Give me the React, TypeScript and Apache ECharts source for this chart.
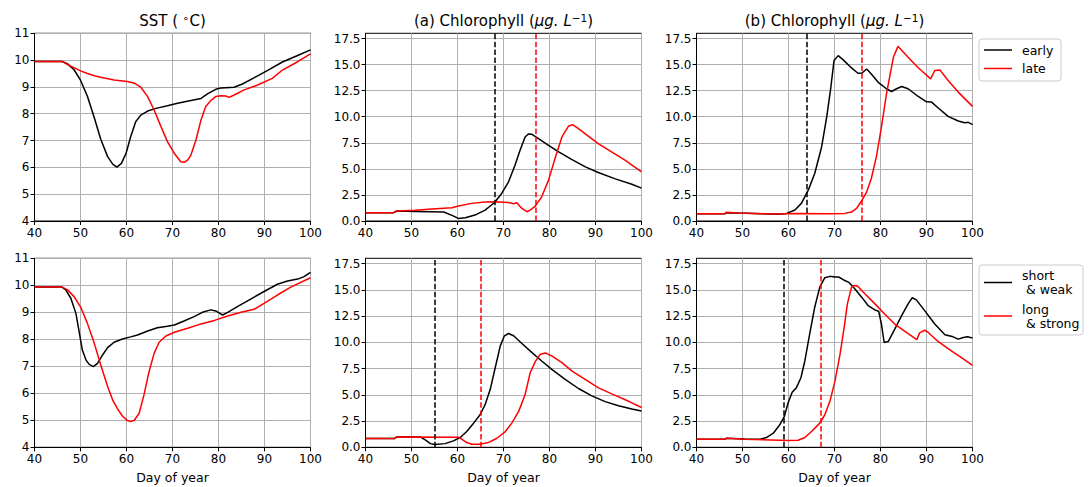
import React, { useEffect, useRef } from "react";
import * as echarts from "echarts";

// ---------- data (day of year, value) ----------
const sstEarlyTop = [[40,9.95],[46,9.95],[47.2,9.86],[48.6,9.64],[50,9.25],[51.5,8.65],[53,7.85],[54.4,7.05],[55.9,6.4],[57,6.12],[57.9,6.01],[58.9,6.15],[59.9,6.52],[60.9,7.14],[62,7.7],[63.1,7.95],[64.6,8.1],[66.4,8.2],[68.9,8.3],[71.1,8.39],[74,8.49],[76.2,8.57],[77.6,8.74],[79.4,8.91],[80.5,8.96],[83.4,8.99],[85.2,9.11],[87.8,9.35],[90.6,9.61],[93.9,9.93],[97.2,10.17],[100,10.38]];
const sstLateTop = [[40,9.95],[46,9.95],[47.2,9.83],[48.6,9.72],[50,9.6],[51.5,9.5],[53,9.42],[54.4,9.36],[57.3,9.26],[60.2,9.2],[61.7,9.14],[63.1,8.99],[64.6,8.64],[66,8.14],[67.5,7.52],[68.9,6.96],[70.4,6.52],[71.8,6.21],[72.5,6.19],[73.3,6.27],[74,6.46],[75.1,7.02],[76.2,7.77],[77.2,8.26],[78.3,8.49],[79.4,8.64],[80.5,8.67],[81.6,8.66],[82.3,8.61],[83.4,8.7],[85.6,8.89],[88.5,9.07],[91.7,9.32],[93.9,9.63],[97.2,9.94],[100,10.23]];
const chlAEarlyTop = [[40,0.8],[46.1,0.8],[46.8,0.96],[50.8,0.92],[57,0.86],[58.8,0.54],[60.2,0.25],[61.7,0.32],[63.8,0.57],[66,1.05],[68,1.75],[69.6,2.64],[71.1,3.76],[72.5,5.35],[73.6,6.78],[74.7,8.06],[75.4,8.34],[76.2,8.31],[77.6,7.9],[79.8,7.26],[82,6.62],[84.9,5.89],[87.8,5.19],[90.6,4.65],[94.3,4.04],[97.9,3.53],[100,3.15]];
const chlALateTop = [[40,0.8],[46.1,0.8],[46.8,0.96],[50.8,1.02],[54.4,1.15],[58.8,1.27],[60.2,1.43],[63.1,1.69],[66,1.82],[68.2,1.85],[71.1,1.78],[72.2,1.66],[72.9,1.75],[74,1.21],[75.1,0.89],[75.8,1.05],[76.9,1.43],[78.3,2.32],[79.8,3.92],[81.2,5.99],[82.7,8.06],[84.1,9.08],[85,9.24],[86.3,8.86],[88.5,8.12],[90.6,7.42],[93.5,6.62],[96.4,5.83],[100,4.71]];
const chlBEarlyTop = [[40,0.7],[46.2,0.7],[46.5,0.8],[49.1,0.76],[54.1,0.7],[57.7,0.64],[59.6,0.73],[61.4,1.05],[62.8,1.69],[64.3,2.96],[65.7,4.55],[67.2,7.1],[68.3,9.97],[69.2,12.8],[69.9,15.4],[70.8,15.86],[71.9,15.45],[73.7,14.68],[75.1,14.17],[75.9,14.17],[77,14.58],[78,14.1],[79.5,13.3],[81.3,12.68],[82.4,12.42],[83.5,12.68],[84.6,12.9],[86,12.68],[88.2,11.94],[90,11.43],[91.1,11.4],[92.5,10.86],[94.7,10.03],[96.9,9.59],[98.3,9.43],[99.1,9.46],[100,9.24]];
const chlBLateTop = [[40,0.7],[46.2,0.7],[46.5,0.83],[49.1,0.76],[57.7,0.67],[61.4,0.73],[68.6,0.7],[72.2,0.73],[73.7,0.86],[74.8,1.21],[75.9,1.94],[77,2.8],[78,4.08],[79.1,6.15],[80.2,9],[81.3,12.2],[82.8,15.7],[83.8,16.75],[86,15.7],[88.2,14.7],[90.9,13.63],[91.8,14.43],[92.9,14.49],[94.7,13.47],[96.9,12.36],[100,10.99]];

const sstShort = [[40,9.94],[45.9,9.94],[46.8,9.83],[47.9,9.52],[49,8.96],[49.7,8.28],[50.4,7.6],[51.2,7.23],[51.9,7.07],[52.8,6.99],[53.7,7.11],[54.8,7.42],[55.9,7.69],[57.3,7.89],[59.1,8.01],[60.9,8.09],[62.4,8.16],[64.6,8.31],[66.7,8.43],[68.9,8.48],[70.4,8.53],[72.5,8.68],[74.7,8.84],[76.5,9],[78.3,9.09],[79.4,9.05],[80.9,8.9],[82,9],[84.1,9.21],[87,9.49],[89.9,9.77],[92.8,10.04],[95,10.16],[97.2,10.23],[98.6,10.32],[100,10.48]];
const sstLong = [[40,9.94],[45.9,9.94],[47.2,9.83],[48.6,9.58],[50.1,9.17],[51.5,8.59],[53,7.85],[54.4,7.05],[55.9,6.25],[57,5.75],[58,5.44],[59.1,5.16],[60.2,4.99],[60.9,4.95],[61.7,5],[62.75,5.26],[63.8,5.94],[64.9,6.8],[66,7.48],[67.1,7.89],[68.55,8.12],[70.4,8.26],[73.3,8.41],[76.2,8.57],[79.1,8.7],[82,8.86],[84.9,9],[87.75,9.11],[89.9,9.33],[92.8,9.64],[95.7,9.93],[100,10.28]];
const chlAShort = [[40,0.83],[46.3,0.83],[46.8,0.99],[51.9,0.99],[53,0.7],[54.1,0.35],[55.1,0.26],[57.3,0.35],[59.1,0.61],[60.6,0.93],[62,1.5],[63.5,2.3],[64.9,3.1],[66,4.06],[67.1,5.5],[68.2,7.58],[69.3,9.66],[70.2,10.62],[71.1,10.84],[72.2,10.62],[74,9.88],[76.2,9.02],[78.3,8.22],[80.5,7.42],[83.4,6.46],[86.3,5.6],[89.2,4.9],[92.1,4.35],[95,3.95],[97.9,3.65],[100,3.45]];
const chlALong = [[40,0.83],[46.3,0.83],[46.8,0.99],[60.2,0.96],[60.9,0.77],[62,0.45],[63.1,0.29],[64.9,0.29],[66.7,0.45],[68.55,0.86],[70.4,1.5],[71.8,2.3],[73.3,3.42],[74.7,5.02],[75.8,7.1],[76.9,8.16],[78,8.86],[79.1,8.99],[80.5,8.7],[82.7,8.06],[84.9,7.26],[87.75,6.46],[90.65,5.66],[93.55,5.09],[97.2,4.38],[100,3.79]];
const chlBShort = [[40,0.77],[46.2,0.77],[46.5,0.86],[50.5,0.8],[53.8,0.77],[55.2,0.93],[56.7,1.34],[58.1,2.14],[59.1,2.94],[59.9,4.22],[60.8,5.25],[61.7,5.66],[62.7,6.62],[63.55,8.22],[64.6,10.78],[65.7,13.34],[66.8,15.26],[67.9,16.15],[69,16.28],[70.1,16.22],[70.9,16.22],[71.9,15.96],[73.1,15.71],[74.4,15.1],[75.9,14.3],[77.3,13.5],[78.8,13.08],[79.6,12.96],[80.2,11.74],[80.8,9.98],[81.7,10.08],[83.1,11.26],[84.6,12.54],[86,13.66],[86.9,14.24],[87.8,14.04],[89.6,13.02],[91.8,11.74],[94,10.72],[95.8,10.52],[96.9,10.3],[98,10.46],[98.9,10.52],[100,10.4]];
const chlBLong = [[40,0.77],[46.2,0.77],[46.5,0.86],[50.5,0.77],[59.9,0.64],[62.1,0.67],[63.55,0.93],[65,1.5],[66.8,2.3],[67.9,3.1],[69,4.38],[70.1,6.3],[71.2,8.86],[72.1,11.42],[72.8,13.66],[73.7,15.26],[74.3,15.42],[75,15.36],[76.6,14.62],[78.8,13.66],[80.9,12.7],[83.1,11.74],[85.3,11.04],[87.9,10.25],[88.5,10.9],[89.6,11.15],[90.2,11.0],[92.5,10.08],[95.4,9.18],[97.6,8.54],[100,7.8]];

// bloom onset days (vertical dashed lines): [black, red]
const onsetATop = [68, 77];
const onsetBTop = [64, 76];
const onsetABottom = [55, 65];
const onsetBBottom = [59, 67];

const chlTicks = [0, 2.5, 5, 7.5, 10, 12.5, 15, 17.5];
const legendTop = ["early", "late"];
const legendBottom = ["short\n & weak", "long\n & strong"];
const titles = ["SST", "(a) Chlorophyll (", "(b) Chlorophyll ("];
const xLabel = "Day of year";

const FONT = "DejaVu Sans";
const BLACK = "#000000";
const RED = "#ff0000";

const cols = [
  { left: 34.5, width: 276 },
  { left: 365.5, width: 276 },
  { left: 696.5, width: 276 },
];
const rows = [
  { top: 33.3, height: 187.7 },
  { top: 258.3, height: 189 },
];

export default function App() {
  const ref = useRef<HTMLDivElement>(null);
  useEffect(() => {
    if (!ref.current) return;
    const chart = echarts.init(ref.current, null, { renderer: "svg" });

    const panels = [
      { r: 0, c: 0, type: "sst", data: [sstEarlyTop, sstLateTop], onset: null },
      { r: 0, c: 1, type: "chl", data: [chlAEarlyTop, chlALateTop], onset: onsetATop },
      { r: 0, c: 2, type: "chl", data: [chlBEarlyTop, chlBLateTop], onset: onsetBTop },
      { r: 1, c: 0, type: "sst", data: [sstShort, sstLong], onset: null },
      { r: 1, c: 1, type: "chl", data: [chlAShort, chlALong], onset: onsetABottom },
      { r: 1, c: 2, type: "chl", data: [chlBShort, chlBLong], onset: onsetBBottom },
    ];

    const grid: any[] = [];
    const xAxis: any[] = [];
    const yAxis: any[] = [];
    const series: any[] = [];
    const axisCommon = {
      axisLine: { show: true, onZero: false, lineStyle: { color: BLACK, width: 1 } },
      axisTick: { show: true, inside: false, length: 4, lineStyle: { color: BLACK, width: 1 } },
      splitLine: { show: true, lineStyle: { color: "#b0b0b0", width: 1 } },
    };

    panels.forEach((p, i) => {
      grid.push({
        left: cols[p.c].left,
        top: rows[p.r].top,
        width: cols[p.c].width,
        height: rows[p.r].height,
        show: true,
        borderColor: BLACK,
        borderWidth: 1,
        backgroundColor: "transparent",
        containLabel: false,
      });
      xAxis.push({
        type: "value",
        gridIndex: i,
        min: 40,
        max: 100,
        interval: 10,
        ...axisCommon,
        axisLabel: { color: BLACK, fontSize: 12, fontFamily: FONT, margin: 6 },
        name: p.r === 1 ? xLabel : "",
        nameLocation: "middle",
        nameGap: 24,
        nameTextStyle: { color: BLACK, fontSize: 12.5, fontFamily: FONT },
      });
      if (p.type === "sst") {
        yAxis.push({
          type: "value",
          gridIndex: i,
          min: 4,
          max: 11,
          interval: 1,
          ...axisCommon,
          axisLabel: { color: BLACK, fontSize: 12, fontFamily: FONT, margin: 5 },
        });
      } else {
        yAxis.push({
          type: "value",
          gridIndex: i,
          min: 0,
          max: 18,
          interval: 2.5,
          ...axisCommon,
          axisTick: { ...axisCommon.axisTick, customValues: chlTicks },
          axisLabel: {
            color: BLACK,
            fontSize: 12,
            fontFamily: FONT,
            margin: 5,
            customValues: chlTicks,
            formatter: (v: number) => v.toFixed(1),
          },
        });
      }
      p.data.forEach((d, k) => {
        const color = k === 0 ? BLACK : RED;
        const s: any = {
          type: "line",
          xAxisIndex: i,
          yAxisIndex: i,
          data: d,
          showSymbol: false,
          symbol: "none",
          lineStyle: { color, width: 1.5 },
          itemStyle: { color },
          silent: true,
          z: 3,
        };
        if (p.onset) {
          s.markLine = {
            silent: true,
            symbol: ["none", "none"],
            label: { show: false },
            lineStyle: { color, width: 1.5, type: [5.5, 2.4] },
            data: [{ xAxis: p.onset[k] }],
            z: 4,
          };
        }
        series.push(s);
      });
    });

    const titleRich = {
      n: { fontSize: 15, fontFamily: FONT, color: BLACK, lineHeight: 18 },
      i: { fontSize: 15, fontFamily: FONT, color: BLACK, fontStyle: "italic", lineHeight: 18 },
      s: { fontSize: 10.5, fontFamily: FONT, color: BLACK, verticalAlign: "top", lineHeight: 10 },
    };
    const titleText = [
      `{n|${titles[0]} ( }{s|∘}{n|C)}`,
      `{n|${titles[1]}}{i|μg. L}{s|−1}{n|)}`,
      `{n|${titles[2]}}{i|μg. L}{s|−1}{n|)}`,
    ];
    const graphic: any[] = [];
    titleText.forEach((t, c) => {
      graphic.push({
        type: "text",
        x: cols[c].left + cols[c].width / 2,
        y: 21,
        style: {
          text: t,
          rich: titleRich,
          align: "center",
          verticalAlign: "middle",
          fontSize: 15,
          fontFamily: FONT,
          fill: BLACK,
        },
      });
    });

    const legendBox = (x: number, y: number, w: number, h: number, labels: string[], rowsY: number[]) => {
      graphic.push({
        type: "rect",
        shape: { x, y, width: w, height: h, r: 3 },
        style: { fill: "rgba(255,255,255,0.8)", stroke: "#cccccc", lineWidth: 1 },
      });
      labels.forEach((lab, k) => {
        graphic.push({
          type: "line",
          shape: { x1: x + 5, y1: rowsY[k], x2: x + 33, y2: rowsY[k] },
          style: { stroke: k === 0 ? BLACK : RED, lineWidth: 1.5 },
        });
        graphic.push({
          type: "text",
          x: x + 43,
          y: rowsY[k],
          style: {
            text: lab,
            fontSize: 12.5,
            fontFamily: FONT,
            fill: BLACK,
            align: "left",
            verticalAlign: "middle",
            lineHeight: 14,
          },
        });
      });
    };
    legendBox(979, 39, 82, 42, legendTop, [50, 68.5]);
    legendBox(979, 265, 104, 70, legendBottom, [282.5, 316]);

    chart.setOption({
      animation: false,
      backgroundColor: "#ffffff",
      grid,
      xAxis,
      yAxis,
      series,
      graphic,
    });
    return () => chart.dispose();
  }, []);

  return (
    <div
      ref={ref}
      style={{ position: "fixed", left: 0, top: 0, width: 1089, height: 487 }}
    />
  );
}
